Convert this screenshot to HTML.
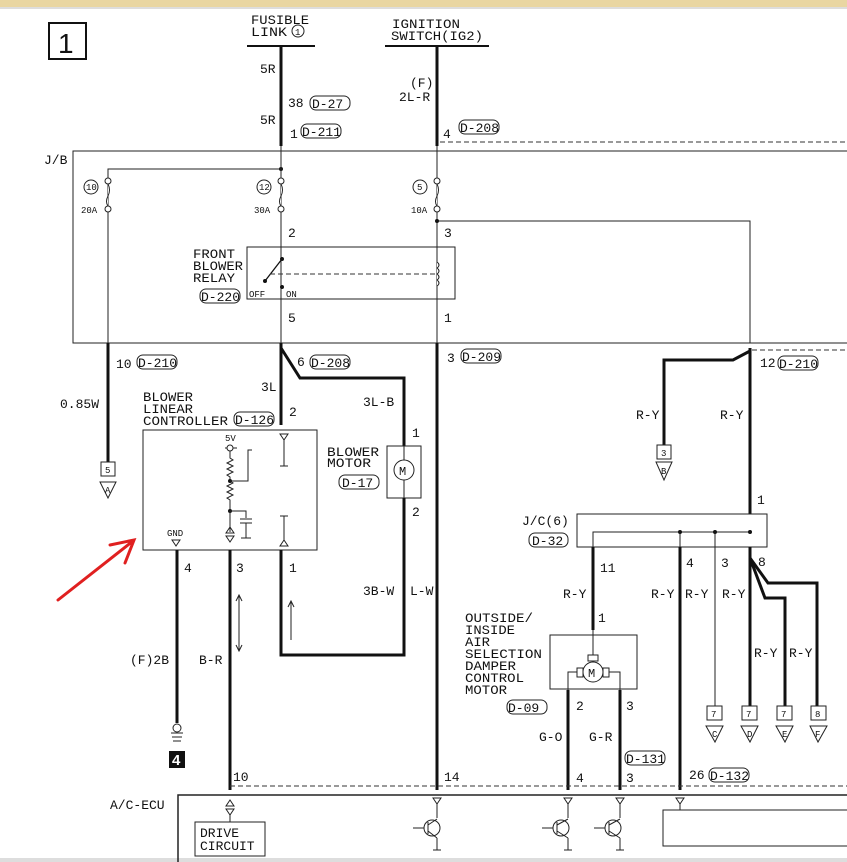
<!DOCTYPE html>
<html><head><meta charset="utf-8"><style>
html,body{margin:0;padding:0;background:#fff}
svg{display:block}
text{font-family:"Liberation Mono",monospace;font-size:13px;fill:#111}
.s{font-size:9px}
.tk{stroke:#111;stroke-width:3;fill:none}
.tn{stroke:#222;stroke-width:1;fill:none}
.d{stroke:#333;stroke-width:1;fill:none;stroke-dasharray:5,3}
.bx{stroke:#222;stroke-width:1;fill:none}
.cr{stroke:#222;stroke-width:1;fill:#fff}
</style></head><body>
<svg width="847" height="862" viewBox="0 0 847 862" xmlns="http://www.w3.org/2000/svg">
<rect x="0" y="0" width="847" height="7" fill="#e9d6a2"/>
<line x1="0" y1="8" x2="847" y2="8" stroke="#bbb"/>
<rect x="0" y="858" width="847" height="4" fill="#ddd"/>

<!-- box 1 -->
<rect x="49" y="23" width="37" height="36" fill="none" stroke="#111" stroke-width="2"/>
<text x="58" y="53" style="font-size:28px;font-family:'Liberation Sans',sans-serif">1</text>

<!-- top labels -->
<text x="251" y="24" textLength="58" lengthAdjust="spacingAndGlyphs">FUSIBLE</text>
<text x="251" y="36" textLength="36" lengthAdjust="spacingAndGlyphs">LINK</text>
<circle cx="298" cy="31" r="6" class="bx"/><text x="295" y="35" class="s">1</text>
<line x1="247" y1="46" x2="315" y2="46" stroke="#111" stroke-width="2"/>
<text x="392" y="28" textLength="68" lengthAdjust="spacingAndGlyphs">IGNITION</text>
<text x="391" y="40" textLength="92" lengthAdjust="spacingAndGlyphs">SWITCH(IG2)</text>
<line x1="385" y1="46" x2="489" y2="46" stroke="#111" stroke-width="2"/>

<!-- top wires -->
<line x1="281" y1="46" x2="281" y2="146" class="tk"/>
<line x1="437" y1="46" x2="437" y2="146" class="tk"/>
<text x="260" y="73">5R</text><text x="260" y="124">5R</text>
<text x="288" y="107">38</text>
<rect x="310" y="96" width="40" height="14" rx="6" class="bx"/><text x="312" y="108">D-27</text>
<text x="290" y="138">1</text>
<rect x="301" y="124" width="40" height="14" rx="6" class="bx"/><text x="302" y="136">D-211</text>
<text x="410" y="87">(F)</text><text x="399" y="101">2L-R</text>
<text x="443" y="138">4</text>
<rect x="459" y="120" width="40" height="14" rx="6" class="bx"/><text x="460" y="132">D-208</text>
<line x1="440" y1="142" x2="847" y2="142" class="d"/>

<!-- J/B -->
<text x="44" y="164">J/B</text>
<path d="M847 151 H73 V343 H847" class="tn"/>
<path d="M108 343 V169 H281" class="tn"/>
<circle cx="281" cy="169" r="2" fill="#111"/>
<line x1="281" y1="146" x2="281" y2="343" class="tn"/>
<line x1="437" y1="146" x2="437" y2="343" class="tn"/>
<path d="M437 221 H750 V343" class="tn"/><circle cx="437" cy="221" r="2" fill="#111"/>
<!-- fuses -->
<g>
<circle cx="108" cy="181" r="3" class="cr"/><circle cx="108" cy="209" r="3" class="cr"/>
<circle cx="281" cy="181" r="3" class="cr"/><circle cx="281" cy="209" r="3" class="cr"/>
<circle cx="437" cy="181" r="3" class="cr"/><circle cx="437" cy="209" r="3" class="cr"/>
<path d="M108 184 q3 6 0 12 q-3 6 0 10" stroke="#222" fill="#fff"/>
<path d="M281 184 q3 6 0 12 q-3 6 0 10" stroke="#222" fill="#fff"/>
<path d="M437 184 q3 6 0 12 q-3 6 0 10" stroke="#222" fill="#fff"/>
</g>
<circle cx="91" cy="187" r="7" class="bx"/><text x="86" y="190" class="s">10</text>
<circle cx="264" cy="187" r="7" class="bx"/><text x="259" y="190" class="s">12</text>
<circle cx="420" cy="187" r="7" class="bx"/><text x="417" y="190" class="s">5</text>
<text x="81" y="213" class="s">20A</text><text x="254" y="213" class="s">30A</text><text x="411" y="213" class="s">10A</text>
<text x="288" y="237">2</text><text x="444" y="237">3</text>
<text x="288" y="322">5</text><text x="444" y="322">1</text>
<!-- relay -->
<rect x="247" y="247" width="208" height="52" class="bx"/>
<text x="193" y="258" textLength="42" lengthAdjust="spacingAndGlyphs">FRONT</text>
<text x="193" y="270" textLength="50" lengthAdjust="spacingAndGlyphs">BLOWER</text>
<text x="193" y="282" textLength="42" lengthAdjust="spacingAndGlyphs">RELAY</text>
<rect x="200" y="289" width="40" height="14" rx="6" class="bx"/><text x="201" y="301">D-220</text>
<line x1="265" y1="281" x2="282" y2="259" stroke="#111" stroke-width="1.3"/>
<circle cx="265" cy="281" r="2" fill="#111"/><circle cx="282" cy="259" r="2" fill="#111"/><circle cx="282" cy="287" r="2" fill="#111"/>
<line x1="270" y1="274" x2="436" y2="274" class="d"/>
<path d="M437 262 q4 3 0 6 q4 3 0 6 q4 3 0 6 q4 3 0 6" stroke="#222" fill="#fff"/>
<text x="249" y="297" class="s">OFF</text><text x="286" y="297" class="s">ON</text>

<!-- below J/B left -->
<line x1="108" y1="343" x2="108" y2="462" class="tk"/>
<text x="116" y="368">10</text>
<rect x="137" y="355" width="40" height="14" rx="6" class="bx"/><text x="138" y="367">D-210</text>
<text x="60" y="408">0.85W</text>
<rect x="101" y="462" width="14" height="14" class="bx" stroke-width="1.5"/><text x="105" y="473" class="s">5</text>
<path d="M100 482 H116 L108 498 Z" class="bx" stroke-width="1.5"/><text x="105" y="493" class="s">A</text>

<!-- 281 wires -->
<line x1="281" y1="343" x2="281" y2="425" class="tk"/>
<path d="M281 348 L300 378 H404 V446" class="tk"/>
<text x="297" y="366">6</text>
<rect x="310" y="355" width="40" height="14" rx="6" class="bx"/><text x="311" y="367">D-208</text>
<text x="261" y="391">3L</text><text x="363" y="406">3L-B</text>
<text x="289" y="416">2</text>
<text x="143" y="401" textLength="50" lengthAdjust="spacingAndGlyphs">BLOWER</text>
<text x="143" y="413" textLength="50" lengthAdjust="spacingAndGlyphs">LINEAR</text>
<text x="143" y="425" textLength="85" lengthAdjust="spacingAndGlyphs">CONTROLLER</text>
<rect x="234" y="412" width="40" height="14" rx="6" class="bx"/><text x="235" y="424">D-126</text>
<rect x="143" y="430" width="174" height="120" class="bx"/>
<!-- controller internals -->
<text x="225" y="441" class="s">5V</text>
<line x1="225" y1="448" x2="237" y2="448" class="tn"/><circle cx="230" cy="448" r="3" class="cr"/>
<path d="M230 451 V458 l3 2 -6 3 6 3 -6 3 6 3 -6 3 3 2 V481 l3 2 -6 3 6 3 -6 3 6 3 -6 3 3 2 V510" class="tn"/>
<circle cx="230" cy="481" r="2" fill="#111"/><circle cx="230" cy="511" r="2" fill="#111"/>
<path d="M230 481 H248 V450 H252" class="tn"/>
<path d="M230 511 H246 V518 M240 519 H252 M240 523 H252 M246 523 V538 M241 538 H251" class="tn"/>
<path d="M230 511 V532" class="tn"/>
<path d="M226 533 h8 l-4 -6 z M226 536 h8 l-4 6 z" class="bx"/>
<path d="M280 434 h8 l-4 6 z M284 440 V466 M280 466 h8" class="tn"/>
<path d="M280 516 h8 M284 516 V540 M280 546 h8 l-4 -6 z" class="tn"/>
<text x="167" y="536" class="s">GND</text>
<path d="M172 540 h8 l-4 6 z" class="bx"/>

<!-- blower motor -->
<rect x="387" y="446" width="34" height="52" class="bx"/>
<line x1="404" y1="446" x2="404" y2="498" class="tn"/>
<circle cx="404" cy="470" r="10" class="cr"/><text x="399" y="475" style="font-size:12px">M</text>
<text x="412" y="437">1</text><text x="412" y="516">2</text>
<text x="327" y="456" textLength="52" lengthAdjust="spacingAndGlyphs">BLOWER</text>
<text x="327" y="467" textLength="44" lengthAdjust="spacingAndGlyphs">MOTOR</text>
<rect x="339" y="475" width="40" height="14" rx="6" class="bx"/><text x="342" y="487">D-17</text>
<path d="M404 498 V655 H281 V550" class="tk"/>
<text x="363" y="595">3B-W</text><text x="410" y="595">L-W</text>
<text x="289" y="572">1</text>
<path d="M291 640 V602 M288 607 L291 601 294 607" class="tn"/>

<!-- 177, 230 -->
<line x1="177" y1="550" x2="177" y2="723" class="tk"/>
<text x="184" y="572">4</text><text x="130" y="664">(F)2B</text>
<circle cx="177" cy="728" r="4" class="cr"/>
<path d="M171 733 h12 M172 737 h10 M173 741 h8" class="tn"/>
<rect x="169" y="751" width="16" height="17" fill="#111"/><text x="172" y="765" style="fill:#fff;font-weight:bold;font-family:'Liberation Sans',sans-serif;font-size:15px">4</text>
<line x1="230" y1="550" x2="230" y2="790" class="tk"/>
<text x="236" y="572">3</text><text x="199" y="664">B-R</text>
<path d="M239 596 V650 M236 601 L239 595 242 601 M236 645 L239 651 242 645" class="tn"/>

<!-- red arrow -->
<path d="M58 600 L133 541 M110 545 L134 540 L125 563" stroke="#e02020" stroke-width="3" fill="none" stroke-linecap="round"/>

<!-- center 437 -->
<line x1="437" y1="343" x2="437" y2="790" class="tk"/>
<text x="447" y="362">3</text>
<rect x="461" y="349" width="40" height="14" rx="6" class="bx"/><text x="462" y="361">D-209</text>

<!-- right side -->
<line x1="750" y1="348" x2="750" y2="514" class="tk"/>
<path d="M750 351 L733 360 H664 V445" class="tk"/>
<text x="760" y="367">12</text>
<rect x="778" y="356" width="40" height="14" rx="6" class="bx"/><text x="779" y="368">D-210</text>
<line x1="752" y1="350" x2="847" y2="350" class="d"/>
<text x="636" y="419">R-Y</text><text x="720" y="419">R-Y</text>
<rect x="657" y="445" width="14" height="14" class="bx" stroke-width="1.5"/><text x="661" y="456" class="s">3</text>
<path d="M656 462 H672 L664 480 Z" class="bx" stroke-width="1.5"/><text x="661" y="474" class="s">B</text>
<text x="757" y="504">1</text>

<!-- J/C -->
<rect x="577" y="514" width="190" height="33" class="bx"/>
<path d="M593 557 V532 H750" class="tn"/>
<line x1="680" y1="532" x2="680" y2="547" class="tn"/><line x1="715" y1="532" x2="715" y2="547" class="tn"/>
<circle cx="680" cy="532" r="2" fill="#111"/><circle cx="715" cy="532" r="2" fill="#111"/><circle cx="750" cy="532" r="2" fill="#111"/>
<text x="522" y="525">J/C(6)</text>
<rect x="529" y="533" width="39" height="14" rx="6" class="bx"/><text x="532" y="545">D-32</text>
<line x1="593" y1="547" x2="593" y2="630" class="tk"/>
<text x="600" y="572">11</text><text x="563" y="598">R-Y</text><text x="598" y="622">1</text>
<line x1="680" y1="547" x2="680" y2="790" class="tk"/>
<text x="686" y="567">4</text>
<line x1="715" y1="547" x2="715" y2="706" class="tn" stroke-width="2"/>
<text x="721" y="567">3</text>
<line x1="750" y1="547" x2="750" y2="706" class="tk"/>
<text x="758" y="566">8</text>
<path d="M750 558 L765 598 H785 V706" class="tk"/>
<path d="M750 558 L768 583 H817 V706" class="tk"/>
<text x="651" y="598">R-Y</text><text x="685" y="598">R-Y</text><text x="722" y="598">R-Y</text>
<text x="754" y="657">R-Y</text><text x="789" y="657">R-Y</text>
<g>
<rect x="707" y="706" width="15" height="14" class="bx" stroke-width="1.5"/><text x="711" y="717" class="s">7</text>
<path d="M706 726 H723 L715 742 Z" class="bx" stroke-width="1.5"/><text x="712" y="737" class="s">C</text>
<rect x="742" y="706" width="15" height="14" class="bx" stroke-width="1.5"/><text x="746" y="717" class="s">7</text>
<path d="M741 726 H758 L750 742 Z" class="bx" stroke-width="1.5"/><text x="747" y="737" class="s">D</text>
<rect x="777" y="706" width="15" height="14" class="bx" stroke-width="1.5"/><text x="781" y="717" class="s">7</text>
<path d="M776 726 H793 L785 742 Z" class="bx" stroke-width="1.5"/><text x="782" y="737" class="s">E</text>
<rect x="811" y="706" width="15" height="14" class="bx" stroke-width="1.5"/><text x="815" y="717" class="s">8</text>
<path d="M810 726 H827 L818 742 Z" class="bx" stroke-width="1.5"/><text x="815" y="737" class="s">F</text>
</g>

<!-- damper motor -->
<text x="465" y="622" textLength="68" lengthAdjust="spacingAndGlyphs">OUTSIDE/</text>
<text x="465" y="634" textLength="50" lengthAdjust="spacingAndGlyphs">INSIDE</text>
<text x="465" y="646" textLength="25" lengthAdjust="spacingAndGlyphs">AIR</text>
<text x="465" y="658" textLength="77" lengthAdjust="spacingAndGlyphs">SELECTION</text>
<text x="465" y="670" textLength="51" lengthAdjust="spacingAndGlyphs">DAMPER</text>
<text x="465" y="682" textLength="59" lengthAdjust="spacingAndGlyphs">CONTROL</text>
<text x="465" y="694" textLength="42" lengthAdjust="spacingAndGlyphs">MOTOR</text>
<rect x="507" y="700" width="40" height="14" rx="6" class="bx"/><text x="508" y="712">D-09</text>
<rect x="550" y="635" width="87" height="54" class="bx"/>
<line x1="593" y1="630" x2="593" y2="660" class="tn"/>
<rect x="588" y="655" width="10" height="6" class="cr"/>
<circle cx="593" cy="672" r="10" class="cr"/><text x="588" y="677" style="font-size:12px">M</text>
<rect x="577" y="668" width="6" height="9" class="cr"/><rect x="603" y="668" width="6" height="9" class="cr"/>
<path d="M577 672 H568 V790" class="tn"/><path d="M609 672 H620 V790" class="tn"/>
<line x1="568" y1="690" x2="568" y2="790" class="tk"/><line x1="620" y1="690" x2="620" y2="790" class="tk"/>
<text x="576" y="710">2</text><text x="626" y="710">3</text>
<text x="539" y="741">G-O</text><text x="589" y="741">G-R</text>
<rect x="625" y="751" width="40" height="14" rx="6" class="bx"/><text x="626" y="763">D-131</text>
<text x="576" y="782">4</text><text x="626" y="782">3</text>
<text x="689" y="779">26</text>
<rect x="709" y="768" width="40" height="14" rx="6" class="bx"/><text x="710" y="780">D-132</text>

<!-- ECU -->
<line x1="230" y1="786" x2="847" y2="786" class="d"/>
<text x="233" y="781">10</text><text x="444" y="781">14</text>
<text x="110" y="809">A/C-ECU</text>
<path d="M178 862 V795 H847" stroke="#222" stroke-width="1.5" fill="none"/>
<path d="M226 806 h8 l-4 -6 z M226 809 h8 l-4 6 z M230 815 V822" class="bx"/>
<rect x="195" y="822" width="70" height="34" class="bx"/>
<text x="200" y="837">DRIVE</text><text x="200" y="850">CIRCUIT</text>
<g class="tn">
<path d="M433 798 h8 l-4 6 z M437 804 V818 M437 838 V850 M433 850 h8"/>
<circle cx="432" cy="828" r="8"/><path d="M424 828 H413 M428 822 V834 M428 825 L437 819 M428 831 L437 838"/>
<path d="M564 798 h8 l-4 6 z M568 804 V818 M568 838 V850 M564 850 h8"/>
<circle cx="561" cy="828" r="8"/><path d="M553 828 H542 M557 822 V834 M557 825 L568 819 M557 831 L568 838"/>
<path d="M616 798 h8 l-4 6 z M620 804 V818 M620 838 V850 M616 850 h8"/>
<circle cx="613" cy="828" r="8"/><path d="M605 828 H594 M609 822 V834 M609 825 L620 819 M609 831 L620 838"/>
<path d="M676 798 h8 l-4 6 z M680 804 V810"/>
</g>
<path d="M847 810 H663 V846 H847" class="bx"/>
</svg>
</body></html>
